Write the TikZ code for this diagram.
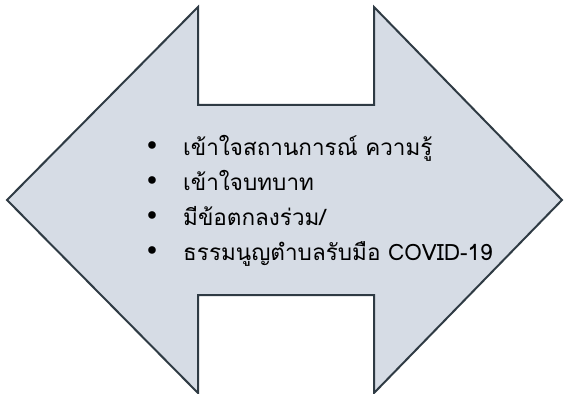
\documentclass[tikz,border=0pt]{standalone}
\usepackage{fontspec}
\newfontfamily\thaifont[Script=Thai]{Loma}
\usetikzlibrary{calc}
\definecolor{arrowfill}{HTML}{D6DCE5}
\definecolor{arrowline}{HTML}{2F3B44}
\tikzset{
  dblarrow/.style={draw=arrowline, line width=2pt, fill=arrowfill, line join=miter},
  bulletmark/.style={inner sep=0, font=\fontsize{34}{36}\selectfont},
  itemtext/.style={anchor=base west, inner sep=0, font=\thaifont\fontsize{22.5}{26}\selectfont}
}

\begin{document}
\begin{tikzpicture}[x=1pt,y=-1pt]
\useasboundingbox (0,0) rectangle (564,393);
% double headed arrow
\draw[dblarrow] (7,200)--(198,7)--(198,105)--(374,105)--(374,7)--(562,200)
  --(374,393)--(374,295)--(198,295)--(198,393)--cycle;
% the list
\foreach \i/\txt [evaluate=\i as \yb using 120+35*\i] in
  {1/{เข้าใจสถานการณ์ ความรู้}, 2/{เข้าใจบทบาท}, 3/{มีข้อตกลงร่วม/}, 4/{ธรรมนูญตำบลรับมือ COVID-19}} {
  \node[itemtext] (t\i) at (183,\yb) {\txt};
  \node[bulletmark] (b\i) at (152,\yb-7) {\textbullet};
}
\end{tikzpicture}
\end{document}
